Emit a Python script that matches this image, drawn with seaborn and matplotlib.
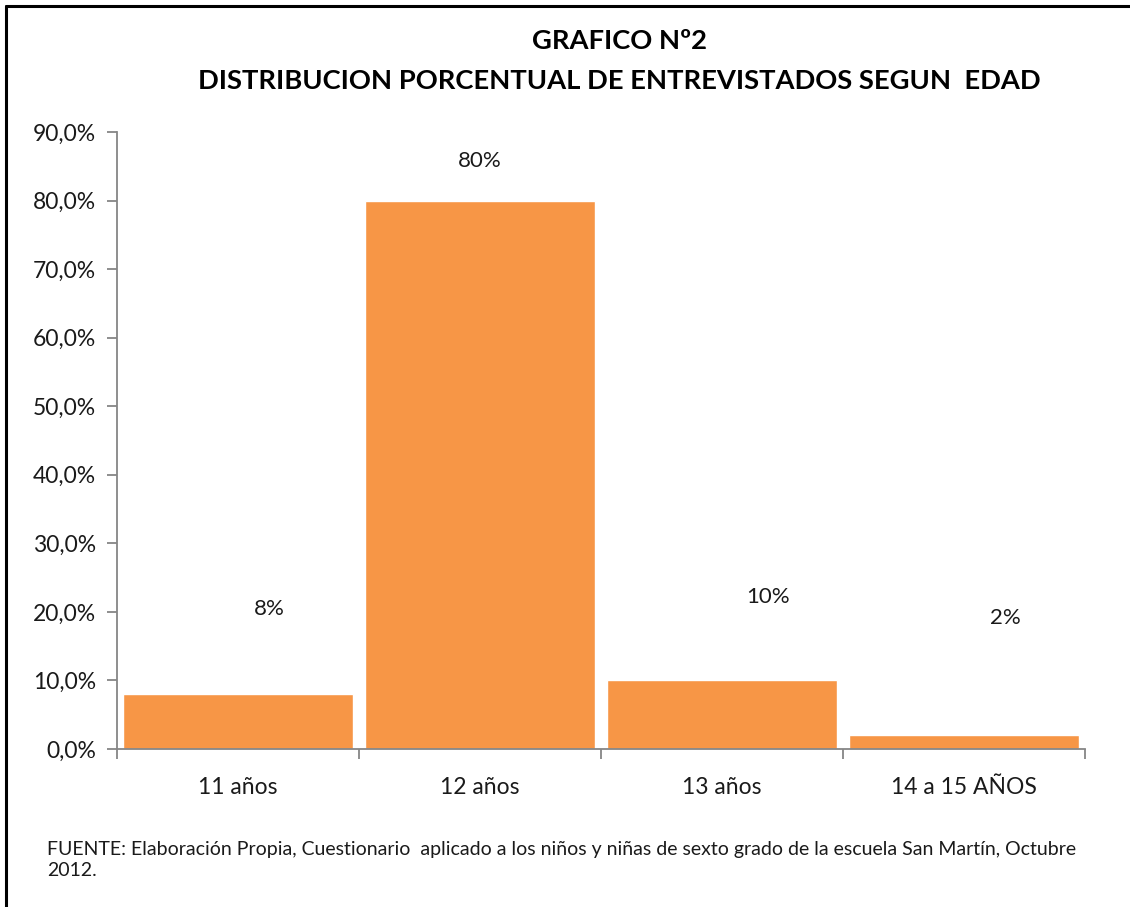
import matplotlib
matplotlib.use("Agg")
import matplotlib.pyplot as plt
from matplotlib.lines import Line2D
from matplotlib.ticker import FixedLocator, FuncFormatter
import seaborn as sns
import pandas as pd

# data
categories = ["11 años", "12 años", "13 años", "14 a 15 AÑOS"]
shares = [0.08, 0.80, 0.10, 0.02]
value_labels = ["8%", "80%", "10%", "2%"]
# where the data labels sit (category offset, y value) as in the original
label_dx = [0.13, 0.0, 0.19, 0.17]
label_y = [0.204, 0.858, 0.222, 0.191]
yticks = [0.0, 0.1, 0.2, 0.3, 0.4, 0.5, 0.6, 0.7, 0.8, 0.9]

source = ("FUENTE: Elaboración Propia, Cuestionario  aplicado a los niños y niñas de sexto grado "
          "de la escuela San Martín, Octubre\n2012.")

sns.set_style("white")
plt.rcParams["font.family"] = ["Lato", "DejaVu Sans"]

df = pd.DataFrame({"edad": categories, "porcentaje": shares})

fig = plt.figure(figsize=(11.3, 9.07), dpi=100)
fig.patch.set_facecolor("white")
fig.patch.set_edgecolor("none")
fig.patch.set_linewidth(0)
ax = fig.add_axes([0.1035, 0.1742, 0.8566, 0.6803])

sns.barplot(data=df, x="edad", y="porcentaje", color="#F79646", saturation=1,
            width=0.95, ax=ax)

ax.set_ylim(0, 0.9)
ax.set_xlim(-0.5, len(categories) - 0.5)
ax.yaxis.set_major_locator(FixedLocator(yticks))
ax.yaxis.set_major_formatter(FuncFormatter(lambda v, p: f"{v * 100:.1f}%".replace(".", ",")))
ax.set_xlabel("")
ax.set_ylabel("")

# category boundaries get the tick marks, labels stay centred
ax.set_xticks(range(len(categories)))
ax.set_xticklabels(categories)
ax.set_xticks([i - 0.5 for i in range(len(categories) + 1)], minor=True)
ax.tick_params(axis="x", which="major", bottom=True, length=0, pad=20,
               labelsize=16.5, colors="#1a1a1a")
ax.tick_params(axis="x", which="minor", bottom=True, length=7, width=1.3,
               color="#868686", direction="out")
ax.tick_params(axis="y", left=True, length=7, width=1.3, color="#868686", direction="out",
               labelsize=16.5, labelcolor="#1a1a1a", pad=8)

for side in ["top", "right"]:
    ax.spines[side].set_visible(False)
for side in ["left", "bottom"]:
    ax.spines[side].set_color("#868686")
    ax.spines[side].set_linewidth(1.3)

for i, (txt, dx, yy) in enumerate(zip(value_labels, label_dx, label_y)):
    ax.text(i + dx, yy, txt, ha="center", va="center", fontsize=16, color="#1a1a1a")

fig.text(0.548, 0.955, "GRAFICO Nº2", ha="center", va="center",
         fontsize=19.7, fontweight="bold", color="black")
fig.text(0.548, 0.911, "DISTRIBUCION PORCENTUAL DE ENTREVISTADOS SEGUN  EDAD", ha="center",
         va="center", fontsize=19.7, fontweight="bold", color="black")

fig.text(0.042, 0.031, source, ha="left", va="bottom", fontsize=14,
         color="#1a1a1a", linespacing=1.3)

# outer chart frame: only top and left edges fall inside the image
fx, fy = 6 / 1130, 1 - 6 / 907
fig.add_artist(Line2D([fx, 1.05], [fy, fy], transform=fig.transFigure,
                      color="black", linewidth=2.2))
fig.add_artist(Line2D([fx, fx], [-0.05, fy], transform=fig.transFigure,
                      color="black", linewidth=2.2))

fig.savefig("out.png", dpi=100, facecolor="white", edgecolor="none")
